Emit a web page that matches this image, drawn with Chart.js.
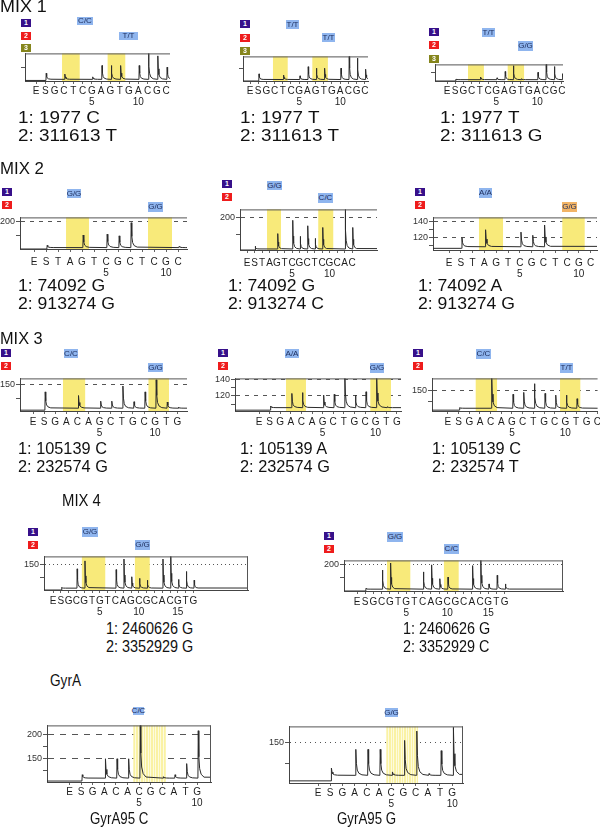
<!DOCTYPE html>
<html>
<head>
<meta charset="utf-8">
<title>Pyrograms</title>
<script src="https://cdn.jsdelivr.net/npm/chart.js@4.4.1/dist/chart.umd.min.js"></script>
<style>
  html, body { margin: 0; padding: 0; background: #fff; }
  body { position: relative; width: 600px; height: 827px; overflow: hidden; font-family: "Liberation Sans", Arial, sans-serif; }
  canvas { position: absolute; }
  .txt { position: absolute; white-space: nowrap; line-height: 1; color: #111; font-size: 16px; transform-origin: 0 0; }
  .badge { position: absolute; width: 10px; height: 8px; color: #fff; font: bold 7px/8px "Liberation Sans", Arial, sans-serif; text-align: center; }
  .call { position: absolute; background: #8fb5ee; color: #1b2b5a; font: 8px/1 "Liberation Sans", Arial, sans-serif; display: flex; align-items: center; justify-content: center; }
</style>
</head>
<body>
<script>
const FONT = '"Liberation Sans", Arial, sans-serif';

// dispensation orders
const mix1Disp = ['E','S','G','C','T','C','G','A','G','T','G','A','C','G','C'];
const mix2Disp = ['E','S','T','A','G','T','C','G','C','T','C','G','C','A','C'];
const mix3Disp = ['E','S','G','A','C','A','G','C','T','G','C','G','T','G','C'];
const mix4Disp = ['E','S','G','C','G','T','G','T','C','A','G','C','G','C','A','C','G','T','G'];
const gyrDisp  = ['E','S','G','A','C','A','C','G','C','A','T','G'];

// peak heights per dispensation (0 = no peak)
const mix1aPeaks = [0, 28, 0, 25, 0, 0, 15, 56, 56, 56, 0, 56, 110, 91, 50];
const mix1bPeaks = [0, 29, 0, 0, 24, 0, 21, 58, 52, 52, 0, 52, 110, 93, 48];
const mix1cPeaks = [0, 12, 0, 0, 24, 0, 19, 57, 92, 14, 0, 52, 110, 87, 44];
const mix2aPeaks = [0, 116, 0, 0, 153, 0, 156, 150, 197, 0, 0, 0, 112];
const mix2bPeaks = [0, 116, 0, 0, 153, 0, 192, 145, 176, 139, 171, 0, 0, 235, 171];
const mix2cPeaks = [0, 120, 0, 130, 0, 0, 127, 123, 136, 0, 0, 0, 0];
const mix3aPeaks = [0, 124, 0, 0, 111, 0, 91, 91, 145, 89, 124, 167, 88, 70, 124];
const mix3bPeaks = [0, 108, 0, 123, 124, 0, 121, 122, 145, 121, 125, 145, 107, 0, 0];
const mix3cPeaks = [0, 70, 0, 0, 215, 0, 133, 142, 183, 137, 129, 129, 112, 0, 129];
const mix4aPeaks = [0, 63, 0, 133, 163, 0, 0, 0, 130, 170, 103, 97, 90, 0, 170, 185, 93, 123, 90];
const mix4bPeaks = [0, 110, 0, 180, 207, 0, 0, 0, 173, 200, 147, 153, 0, 0, 197, 225, 127, 160, 127];
const gyrCPeaks  = [0, 117, 0, 150, 150, 150, 225, 0, 113, 117, 140, 208];
const gyrGPeaks  = [0, 89, 0, 133, 133, 133, 80, 154, 176, 76, 130, 185];

// baseline before / after the substrate peak
const mix1aBase = [2, 6];
const mix1bBase = [0, 6];
const mix1cBase = [0, 8];
const mix2aBase = [103, 108];
const mix2bBase = [105, 108];
const mix2cBase = [106.5, 108.5];
const mix3aBase = [59, 66];
const mix3bBase = [103, 106];
const mix3cBase = [58, 67];
const mix4aBase = [53, 60];
const mix4bBase = [100, 107];
const gyrCBase  = [104, 110];
const gyrGBase  = [59, 72];

// y ticks and the labelled ones
const mix1YTicks = [50];
const ticks150_200 = [150, 200];
const ticks100_150 = [100, 150];
const ticks110_140 = [110, 120, 130, 140];
const ticksGyrC = [125, 150, 175, 200];
const labels200 = [200];
const labels150 = [150];
const labels120_140 = [120, 140];
const labelsGyrC = [150, 200];

// genotype calls and result lines
const mix1aCalls = ['C/C', 'T/T'];
const mix1bCalls = ['T/T', 'T/T'];
const mix1cCalls = ['T/T', 'G/G'];
const mix2aCalls = ['G/G', 'G/G'];
const mix2bCalls = ['G/G', 'C/C'];
const mix2cCalls = ['A/A', 'G/G'];
const mix3aCalls = ['C/C', 'G/G'];
const mix3bCalls = ['A/A', 'G/G'];
const mix3cCalls = ['C/C', 'T/T'];
const mix4aCalls = ['G/G', 'G/G'];
const mix4bCalls = ['G/G', 'C/C'];
const gyrCCalls = ['C/C'];
const gyrGCalls = ['G/G'];

const mix1aResult = ['1: 1977 C', '2: 311613 T'];
const mix1bResult = ['1: 1977 T', '2: 311613 T'];
const mix1cResult = ['1: 1977 T', '2: 311613 G'];
const mix2aResult = ['1: 74092 G', '2: 913274 G'];
const mix2bResult = ['1: 74092 G', '2: 913274 C'];
const mix2cResult = ['1: 74092 A', '2: 913274 G'];
const mix3aResult = ['1: 105139 C', '2: 232574 G'];
const mix3bResult = ['1: 105139 A', '2: 232574 G'];
const mix3cResult = ['1: 105139 C', '2: 232574 T'];
const mix4aResult = ['1: 2460626 G', '2: 3352929 G'];
const mix4bResult = ['1: 2460626 G', '2: 3352929 C'];
const gyrCResult = ['GyrA95 C'];
const gyrGResult = ['GyrA95 G'];

const headings = ['MIX 1', 'MIX 2', 'MIX 3', 'MIX 4', 'GyrA'];

// layout of each panel (page pixels); last resAt entry = horizontal stretch of the row's text
const panels = [
  { disp: mix1Disp, peaks: mix1aPeaks, base: mix1aBase, yTicks: mix1YTicks, yLabels: [], yGrid: [], calls: mix1aCalls, result: mix1aResult,
    box: [25, 49, 170, 81], x0: 36, dx: 9.3, ymin: 0, ymax: 100, yW: 6, xPad: 2, dash: [], closed: false,
    bands: [[2.8, 4.7], [7.7, 9.6]], badge: [21, 19, 12.5, 3], callAt: [[77, 17, 16, 8], [119, 32, 19, 8]], resAt: [18, 110, 18, 1.18] },
  { disp: mix1Disp, peaks: mix1bPeaks, base: mix1bBase, yTicks: mix1YTicks, yLabels: [], yGrid: [], calls: mix1bCalls, result: mix1bResult,
    box: [243, 52, 368, 81], x0: 250, dx: 8.2, ymin: 0, ymax: 100, yW: 6, xPad: 2, dash: [], closed: false,
    bands: [[2.8, 4.6], [7.6, 9.5]], badge: [240, 20, 13.5, 3], callAt: [[286, 20, 13, 9], [322, 33, 13, 9]], resAt: [240, 110, 18, 1.18] },
  { disp: mix1Disp, peaks: mix1cPeaks, base: mix1cBase, yTicks: mix1YTicks, yLabels: [], yGrid: [], calls: mix1cCalls, result: mix1cResult,
    box: [435, 60, 563, 81], x0: 447, dx: 8.2, ymin: 0, ymax: 100, yW: 6, xPad: 2, dash: [], closed: false,
    bands: [[2.56, 4.5], [7.4, 9.4]], badge: [429, 28, 13.3, 3], callAt: [[482, 28, 13, 9], [518, 41, 15, 10]], resAt: [440, 110, 18, 1.18] },

  { disp: mix2Disp, peaks: mix2aPeaks, base: mix2aBase, yTicks: ticks150_200, yLabels: labels200, yGrid: labels200, calls: mix2aCalls, result: mix2aResult,
    box: [20, 213, 187, 249], x0: 34, dx: 12, ymin: 103, ymax: 216, yW: 28, xPad: 5, dash: [4, 5], closed: false,
    bands: [[2.67, 4.58], [9.5, 11.5]], badge: [2, 188, 13, 2], callAt: [[67, 189, 14, 9], [148, 202, 15, 10]], resAt: [18, 278, 18, 1.1] },
  { disp: mix2Disp, peaks: mix2bPeaks, base: mix2bBase, yTicks: ticks150_200, yLabels: labels200, yGrid: labels200, calls: mix2bCalls, result: mix2bResult,
    box: [240, 205, 377, 250], x0: 247, dx: 7.5, ymin: 105, ymax: 224, yW: 28, xPad: 5, dash: [4, 5], closed: false,
    bands: [[2.67, 4.53], [9.5, 11.5]], badge: [222, 180, 13, 2], callAt: [[267, 181, 15, 9], [318, 193, 15, 10]], resAt: [228, 278, 18, 1.1] },
  { disp: mix2Disp, peaks: mix2cPeaks, base: mix2cBase, yTicks: ticks110_140, yLabels: labels120_140, yGrid: labels120_140, calls: mix2cCalls, result: mix2cResult,
    box: [433, 213, 597, 250], x0: 449, dx: 11.8, ymin: 104.4, ymax: 145.6, yW: 28, xPad: 5, dash: [4, 5], closed: false,
    bands: [[2.54, 4.58], [9.6, 11.5]], badge: [415, 188, 13, 2], callAt: [[479, 188, 13, 10], [562, 202, 15, 10, true]], resAt: [418, 278, 18, 1.1] },

  { disp: mix3Disp, peaks: mix3aPeaks, base: mix3aBase, yTicks: ticks100_150, yLabels: labels150, yGrid: labels150, calls: mix3aCalls, result: mix3aResult,
    box: [20, 374, 187, 411], x0: 33, dx: 11.1, ymin: 56, ymax: 172, yW: 28, xPad: 3, dash: [4, 5], closed: false,
    bands: [[2.7, 4.7], [10.4, 12.25]], badge: [1, 349, 13, 2], callAt: [[64, 349, 14, 9], [148, 363, 15, 9]], resAt: [18, 441, 18, 1.02] },
  { disp: mix3Disp, peaks: mix3bPeaks, base: mix3bBase, yTicks: ticks110_140, yLabels: labels120_140, yGrid: labels120_140, calls: mix3bCalls, result: mix3bResult,
    box: [235, 374, 401, 411], x0: 259, dx: 10.6, ymin: 102, ymax: 141, yW: 28, xPad: 3, dash: [4, 5], closed: false,
    bands: [[2.55, 4.43], [10.5, 12.45]], badge: [218, 349, 13, 2], callAt: [[285, 349, 14, 9], [370, 363, 14, 10]], resAt: [240, 441, 18, 1.02] },
  { disp: mix3Disp, peaks: mix3cPeaks, base: mix3cBase, yTicks: ticks100_150, yLabels: labels150, yGrid: labels150, calls: mix3cCalls, result: mix3cResult,
    box: [432, 374, 598, 411], x0: 448, dx: 10.7, ymin: 54, ymax: 208, yW: 28, xPad: 3, dash: [4, 5], closed: false,
    bands: [[2.6, 4.6], [10.5, 12.4]], badge: [413, 349, 13, 2], callAt: [[476, 349, 15, 10], [560, 363, 13, 10]], resAt: [432, 441, 18, 1.02] },

  { disp: mix4Disp, peaks: mix4aPeaks, base: mix4aBase, yTicks: ticks100_150, yLabels: labels150, yGrid: labels150, calls: mix4aCalls, result: mix4aResult,
    box: [44, 552, 248, 590], x0: 53, dx: 7.8, ymin: 53, ymax: 180, yW: 28, xPad: 3, dash: [1, 3], closed: true,
    bands: [[3.7, 6.7], [10.5, 12.4]], badge: [28, 528, 12.5, 2], callAt: [[82, 527, 16, 10], [135, 540, 15, 10]], resAt: [106, 621, 18, 0.9] },
  { disp: mix4Disp, peaks: mix4bPeaks, base: mix4bBase, yTicks: ticks150_200, yLabels: labels200, yGrid: labels200, calls: mix4bCalls, result: mix4bResult,
    box: [344, 556, 563, 591], x0: 357, dx: 8.2, ymin: 100, ymax: 217, yW: 28, xPad: 3, dash: [1, 3], closed: true,
    bands: [[3.66, 6.5], [10.6, 12.4]], badge: [324, 532, 12.7, 2], callAt: [[387, 532, 16, 10], [444, 544, 15, 10]], resAt: [403, 621, 18, 0.9] },

  { disp: gyrDisp, peaks: gyrCPeaks, base: gyrCBase, yTicks: ticksGyrC, yLabels: labelsGyrC, yGrid: labelsGyrC, calls: gyrCCalls, result: gyrCResult,
    box: [47, 721, 211, 782], x0: 69.5, dx: 11.6, ymin: 102, ymax: 219, yW: 28, xPad: 2, dash: [6, 6], closed: true, stripes: 2.5,
    bands: [[5.5, 8.3]], badge: null, callAt: [[133, 707, 11, 8]], resAt: [90, 811, 18, 0.83] },
  { disp: gyrDisp, peaks: gyrGPeaks, base: gyrGBase, yTicks: ticks100_150, yLabels: labels150, yGrid: labels150, calls: gyrGCalls, result: gyrGResult,
    box: [289, 722, 463, 783], x0: 318, dx: 12.2, ymin: 54, ymax: 187, yW: 28, xPad: 2, dash: [1, 4], closed: true, stripes: 2.5,
    bands: [[5.6, 8.2]], badge: null, callAt: [[385, 708, 13, 9]], resAt: [337, 811, 18, 0.83] }
];

const headingAt = [[0, -1, 1.12], [0, 161, 1.05], [0, 331, 1.02], [62, 493, 0.93], [50, 673, 0.85]];
const badgeColors = ['#37108a', '#ee1c1c', '#85851c'];

// peak trace: sharp rise, quick decay back to the baseline
function buildTrace(peaks, base) {
  const [pre, post] = base;
  let level = pre;
  const pts = [{x: -5, y: pre}];
  peaks.forEach((h, i) => {
    if (!h) return;
    const x = i + 0.1;
    const d = h - post;
    pts.push(
      {x: x - 0.03, y: level},
      {x: x, y: h},
      {x: x + 0.05, y: post + d * 0.45},
      {x: x + 0.12, y: post + d * 0.2},
      {x: x + 0.25, y: post + d * 0.08},
      {x: x + 0.5, y: post + d * 0.02}
    );
    level = post;
  });
  pts.push({x: 40, y: level});
  return pts;
}

const bandPlugin = {
  id: 'bands',
  beforeDatasetsDraw(chart, args, o) {
    const {ctx, chartArea: a, scales: {x}} = chart;
    ctx.save();
    o.ranges.forEach(([from, to]) => {
      const x1 = x.getPixelForValue(from), x2 = x.getPixelForValue(to);
      ctx.fillStyle = o.color;
      ctx.fillRect(x1, a.top, x2 - x1, a.bottom - a.top);
      if (o.stripes) {
        ctx.strokeStyle = 'rgba(255,255,255,0.65)';
        ctx.lineWidth = 1;
        for (let sx = x1 + 2; sx < x2 - 1; sx += o.stripes) {
          ctx.beginPath();
          ctx.moveTo(Math.round(sx) + 0.5, a.top);
          ctx.lineTo(Math.round(sx) + 0.5, a.bottom);
          ctx.stroke();
        }
      }
    });
    ctx.restore();
  }
};

const framePlugin = {
  id: 'frame',
  afterDatasetsDraw(chart, args, o) {
    const {ctx, chartArea: a} = chart;
    ctx.save();
    ctx.strokeStyle = '#555';
    ctx.lineWidth = 1;
    ctx.beginPath();
    ctx.moveTo(a.left, a.top + 0.5);
    ctx.lineTo(a.right, a.top + 0.5);
    if (o.closed) {
      ctx.moveTo(a.right - 0.5, a.top);
      ctx.lineTo(a.right - 0.5, a.bottom);
    }
    ctx.stroke();
    ctx.restore();
  }
};

function addDiv(cls, x, y, text, extra) {
  const d = document.createElement('div');
  d.className = cls;
  d.style.left = x + 'px';
  d.style.top = y + 'px';
  d.textContent = text;
  if (extra) Object.assign(d.style, extra);
  document.body.appendChild(d);
  return d;
}

function drawPanel(p) {
  const [l, t, r, b] = p.box;
  const padT = 2, padR = 6, xH = 30;
  const W = r - l + p.yW + padR;
  const H = b - t + padT + xH;
  const canvas = document.createElement('canvas');
  canvas.width = W;
  canvas.height = H;
  canvas.style.left = (l - p.yW) + 'px';
  canvas.style.top = (t - padT) + 'px';
  canvas.style.width = W + 'px';
  canvas.style.height = H + 'px';
  document.body.appendChild(canvas);

  new Chart(canvas, {
    type: 'line',
    data: {
      datasets: [{
        data: buildTrace(p.peaks, p.base),
        borderColor: '#2b2b2b',
        borderWidth: 1,
        pointRadius: 0,
        tension: 0
      }]
    },
    options: {
      responsive: false,
      animation: false,
      devicePixelRatio: 1,
      events: [],
      layout: {padding: {top: padT, right: padR, left: 0, bottom: 0}},
      plugins: {
        legend: {display: false},
        tooltip: {enabled: false},
        bands: {ranges: p.bands, color: p.stripes ? '#faf2a4' : '#f8ea7a', stripes: p.stripes || 0},
        frame: {closed: p.closed}
      },
      scales: {
        x: {
          type: 'linear',
          bounds: 'data',
          min: (l - p.x0) / p.dx,
          max: (r - p.x0) / p.dx,
          afterFit: s => { s.height = xH; },
          afterBuildTicks: s => {
            s.ticks = p.disp.map((_, i) => ({value: i})).filter(tk => tk.value >= s.min && tk.value <= s.max);
          },
          ticks: {
            autoSkip: false,
            maxRotation: 0,
            minRotation: 0,
            padding: p.xPad,
            color: '#1e1e1e',
            font: {size: 10, family: FONT, lineHeight: 1.05},
            callback: v => {
              const n = v - 1;
              return (n > 0 && n % 5 === 0) ? [p.disp[v], String(n)] : p.disp[v];
            }
          },
          grid: {drawOnChartArea: false, tickLength: 3, tickColor: '#666'},
          border: {color: '#444', width: 1}
        },
        y: {
          type: 'linear',
          bounds: 'data',
          min: p.ymin,
          max: p.ymax,
          afterFit: s => { s.width = p.yW; },
          afterBuildTicks: s => { s.ticks = p.yTicks.map(v => ({value: v})); },
          ticks: {
            autoSkip: false,
            padding: 1,
            color: '#333',
            font: {size: 9, family: FONT},
            callback: v => p.yLabels.includes(v) ? String(v) : ''
          },
          grid: {
            tickLength: 4,
            tickColor: '#555',
            color: c => (c.tick && p.yGrid.includes(c.tick.value)) ? '#555' : 'rgba(0,0,0,0)'
          },
          border: {color: '#444', width: 1, dash: p.dash}
        }
      }
    },
    plugins: [bandPlugin, framePlugin]
  });

  // sample badges 1, 2 (3)
  if (p.badge) {
    const [bx, by, step, n] = p.badge;
    for (let k = 0; k < n; k++) {
      addDiv('badge', bx, Math.round(by + k * step), String(k + 1), {background: badgeColors[k]});
    }
  }
  // genotype calls
  p.calls.forEach((c, k) => {
    const [cx, cy, cw, ch, orange] = p.callAt[k];
    addDiv('call', cx, cy, c, {width: cw + 'px', height: ch + 'px', background: orange ? '#f2b466' : '#8fb5ee'});
  });
  // result lines
  const [rx, ry, gap, sx] = p.resAt;
  p.result.forEach((s, k) => addDiv('txt', rx, ry + k * gap, s, {transform: 'scaleX(' + sx + ')'}));
}

panels.forEach(drawPanel);
headings.forEach((h, k) => addDiv('txt', headingAt[k][0], headingAt[k][1], h, {transform: 'scaleX(' + headingAt[k][2] + ')'}));
</script>
</body>
</html>
